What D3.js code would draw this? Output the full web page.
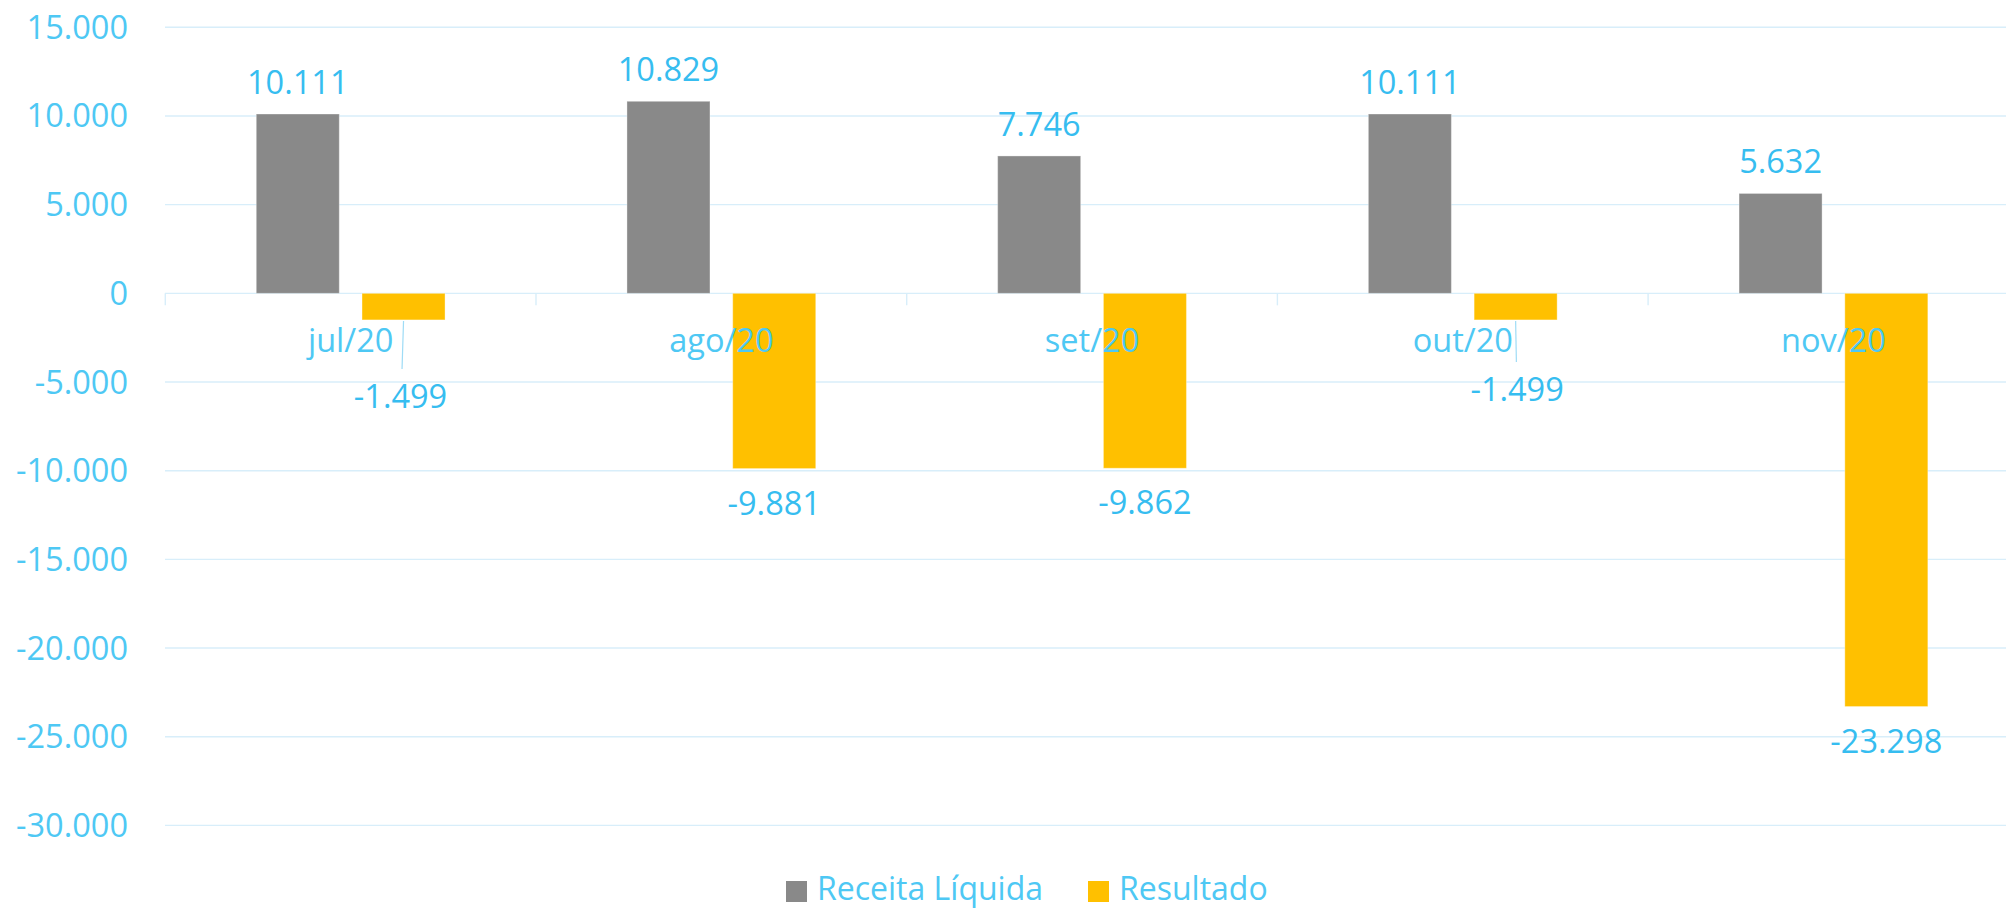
<!DOCTYPE html>
<html>
<head>
<meta charset="utf-8">
<script src="https://cdn.jsdelivr.net/npm/d3@7"></script>
<style>
  body { margin: 0; background: #fff; }
  text { font-family: "Open Sans", "Noto Sans", sans-serif; }
</style>
</head>
<body>
<svg width="2006" height="908"></svg>
<script>
// data
const months = ['jul/20', 'ago/20', 'set/20', 'out/20', 'nov/20'];
const series = ['Receita Líquida', 'Resultado'];
const receita = [10111, 10829, 7746, 10111, 5632];
const resultado = [-1499, -9881, -9862, -1499, -23298];
const yTicks = [15000, 10000, 5000, 0, -5000, -10000, -15000, -20000, -25000, -30000];

const colors = { 'Receita Líquida': '#898989', 'Resultado': '#ffc000' };
const axisText = '#4ec8f4';
const labelText = '#36bdf0';
const gridColor = '#d8eefa';
const fs = 32.5;

// labels that were dragged off the bar end (index -> shift), with leader line
const movedLabels = { 0: [-3, 42], 3: [1.5, 35] };

const pt = d3.formatLocale({ decimal: ',', thousands: '.', grouping: [3], currency: ['R$', ''], minus: '-' });
const fmt = pt.format(',d');

const svg = d3.select('svg');

const x0 = d3.scaleBand().domain(months).range([165.3, 2018.8]);
const x1 = d3.scaleBand().domain(series).range([0, x0.bandwidth()])
    .paddingInner(0.215).paddingOuter(0.86);
const y = d3.scaleLinear().domain([-30000, 15000]).range([825.4, 27.3]);

// grid lines
svg.append('g').selectAll('line')
    .data(yTicks)
    .join('line')
    .attr('x1', 165)
    .attr('x2', 2006)
    .attr('y1', d => y(d))
    .attr('y2', d => y(d))
    .attr('stroke', gridColor)
    .attr('stroke-width', 1.4);

// y labels
svg.append('g').selectAll('text')
    .data(yTicks)
    .join('text')
    .attr('x', 128)
    .attr('y', d => y(d) + 11.5)
    .attr('text-anchor', 'end')
    .attr('font-size', fs)
    .attr('fill', axisText)
    .text(d => fmt(d));

// category tick marks
const bounds = months.map(m => x0(m)).concat([x0(months[4]) + x0.bandwidth()]);
svg.append('g').selectAll('line')
    .data(bounds)
    .join('line')
    .attr('x1', d => d)
    .attr('x2', d => d)
    .attr('y1', y(0))
    .attr('y2', y(0) + 12)
    .attr('stroke', gridColor)
    .attr('stroke-width', 1.4);

// bars
const rows = months.map((m, i) => ({ m, i, vals: [receita[i], resultado[i]] }));
const groups = svg.append('g').selectAll('g')
    .data(rows)
    .join('g')
    .attr('transform', d => `translate(${x0(d.m)},0)`);

groups.selectAll('rect')
    .data(d => series.map((s, k) => ({ s, v: d.vals[k] })))
    .join('rect')
    .attr('x', d => x1(d.s))
    .attr('width', x1.bandwidth())
    .attr('y', d => y(Math.max(0, d.v)))
    .attr('height', d => Math.abs(y(d.v) - y(0)))
    .attr('fill', d => colors[d.s])
    .attr('stroke', '#ffffff')
    .attr('stroke-opacity', 0.35)
    .attr('stroke-width', 1);

// category labels (drawn over the bars)
svg.append('g').selectAll('text')
    .data(months)
    .join('text')
    .attr('x', d => x0(d) + x0.bandwidth() / 2)
    .attr('y', 352)
    .attr('text-anchor', 'middle')
    .attr('font-size', fs)
    .attr('fill', axisText)
    .text(d => d);

// value labels, receita
svg.append('g').selectAll('text')
    .data(rows)
    .join('text')
    .attr('x', d => x0(d.m) + x1(series[0]) + x1.bandwidth() / 2)
    .attr('y', d => y(receita[d.i]) - 20)
    .attr('text-anchor', 'middle')
    .attr('font-size', fs)
    .attr('fill', labelText)
    .text(d => fmt(receita[d.i]));

// value labels, resultado
const resLabels = svg.append('g');
rows.forEach(d => {
    const cx = x0(d.m) + x1(series[1]) + x1.bandwidth() / 2;
    const yb = y(resultado[d.i]);
    const shift = movedLabels[d.i] || [0, 0];
    const ly = yb + 46 + shift[1];
    if (movedLabels[d.i]) {
        resLabels.append('line')
            .attr('x1', cx)
            .attr('y1', yb + 1)
            .attr('x2', cx + shift[0] * 0.5)
            .attr('y2', ly - 39)
            .attr('stroke', '#9fdcf6')
            .attr('stroke-width', 1.2);
    }
    resLabels.append('text')
        .attr('x', cx + shift[0])
        .attr('y', ly)
        .attr('text-anchor', 'middle')
        .attr('font-size', fs)
        .attr('fill', labelText)
        .text(fmt(resultado[d.i]));
});

// legend
const legend = svg.append('g');
const legendX = [786, 1088];
series.forEach((s, k) => {
    legend.append('rect')
        .attr('x', legendX[k])
        .attr('y', 881)
        .attr('width', 21)
        .attr('height', 21)
        .attr('fill', colors[s]);
    legend.append('text')
        .attr('x', legendX[k] + 31)
        .attr('y', 900)
        .attr('font-size', 32)
        .attr('fill', axisText)
        .text(s);
});
</script>
</body>
</html>
